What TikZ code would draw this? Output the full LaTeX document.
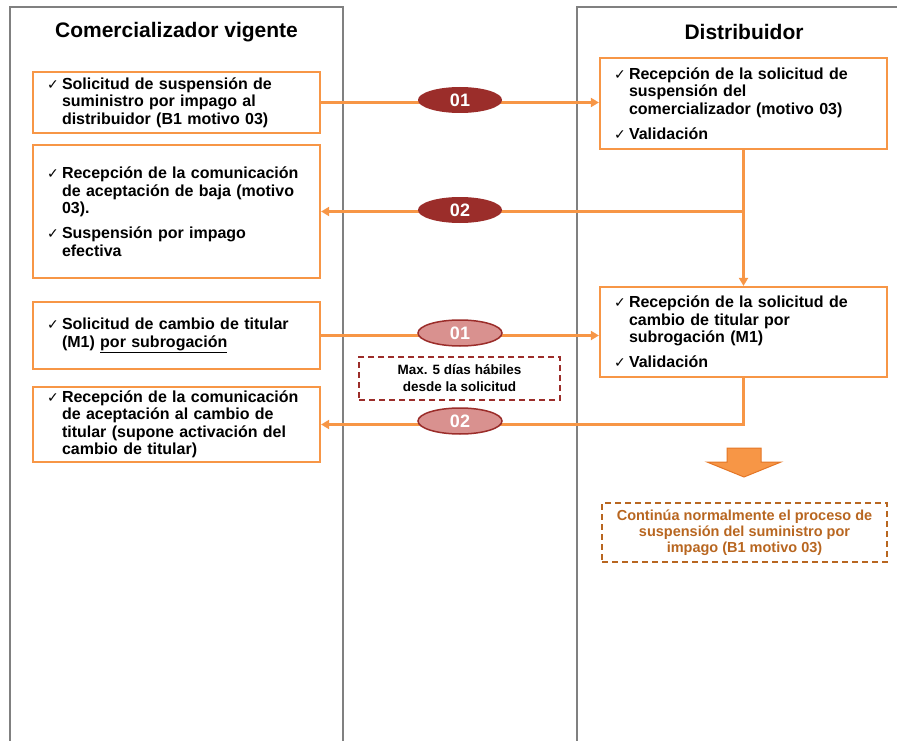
\documentclass[tikz,border=0pt]{standalone}
\usepackage{fontspec}
\setmainfont{Liberation Sans}
\newfontfamily\tickfont{DejaVu Sans}
\usetikzlibrary{arrows.meta,shapes.geometric}
\definecolor{flowO}{RGB}{247,150,70}
\definecolor{arrO}{RGB}{228,118,38}
\definecolor{ovalR}{RGB}{155,45,42}
\definecolor{ovalP}{RGB}{217,145,143}
\definecolor{noteB}{RGB}{184,102,32}
\definecolor{laneG}{RGB}{128,128,128}
\newcommand{\tick}{\makebox[15pt][l]{\tickfont\fontsize{14}{14}\selectfont ✓}}
\newcommand{\itm}[1]{\noindent\tick\parbox[t]{244pt}{\raggedright #1}\par}
\newcommand{\gap}{\vspace{9pt}}

\begin{document}
\begin{tikzpicture}[x=1pt,y=-1pt,
  actbox/.style={draw=flowO,line width=2.2pt,fill=white,inner xsep=14pt,inner ysep=2pt,
    text width=259pt,font=\bfseries\fontsize{16}{17.5}\selectfont},
  flow/.style={draw=flowO,line width=2.2pt,-{Triangle[length=8pt,width=9pt]}},
  oval/.style={ellipse,minimum width=84pt,minimum height=26pt,inner sep=0pt,text=white,
    font=\bfseries\fontsize{18}{18}\selectfont},
  note/.style={dashed,dash pattern=on 6pt off 4pt,line width=1.2pt,align=center,inner sep=0pt}]
\useasboundingbox (0,0) rectangle (897,741);
\clip (0,0) rectangle (897,741);
% swim lanes
\draw[laneG,line width=2pt] (10,7) rectangle (343,770);
\draw[laneG,line width=2pt] (577,7) rectangle (915,770);
\node[font=\bfseries\fontsize{21}{21}\selectfont] (hcom) at (176.5,32) {Comercializador vigente};
\node[font=\bfseries\fontsize{21}{21}\selectfont] (hdis) at (744,32) {Distribuidor};
% comercializador
\node[actbox,minimum height=61pt] (l1) at (176.5,102.5)
  {\itm{Solicitud de suspensión de\\suministro por impago al\\distribuidor (B1 motivo 03)}};
\node[actbox,minimum height=133pt] (l2) at (176.5,211.5)
  {\itm{Recepción de la comunicación\\de aceptación de baja (motivo\\03).}\gap
   \itm{Suspensión por impago\\efectiva}};
\node[actbox,minimum height=67pt] (l3) at (176.5,335.5)
  {\itm{Solicitud de cambio de titular\\(M1) \underline{por subrogación}}};
\node[actbox,minimum height=75pt] (l4) at (176.5,424.5)
  {\itm{Recepción de la comunicación\\de aceptación al cambio de\\titular (supone activación del\\cambio de titular)}};
% distribuidor
\node[actbox,minimum height=91pt] (r1) at (743.5,103.5)
  {\itm{Recepción de la solicitud de\\suspensión del\\comercializador (motivo 03)}\gap
   \itm{Validación}};
\node[actbox,minimum height=90pt] (r2) at (743.5,332)
  {\itm{Recepción de la solicitud de\\cambio de titular por\\subrogación (M1)}\gap
   \itm{Validación}};
% messages
\draw[flow] (l1.east) -- (l1.east -| r1.west);
\draw[flow] (r1.south) -- (r2.north);
\draw[flow] (r1.south |- l2.east) -- (l2.east);
\draw[flow] (l3.east) -- (l3.east -| r2.west);
\draw[flow] (r2.south) |- (l4.east);
\node[oval,fill=ovalR] (m1) at (460,100) {01};
\node[oval,fill=ovalR] (m2) at (460,210) {02};
\node[oval,fill=ovalP,draw=ovalR,line width=1.5pt] (m3) at (460,333) {01};
\node[oval,fill=ovalP,draw=ovalR,line width=1.5pt] (m4) at (460,421) {02};
\node[note,draw=ovalR,minimum width=201pt,minimum height=43pt,
  font=\bfseries\fontsize{13.5}{17}\selectfont] (plazo) at (459.5,378.5)
  {Max. 5 días hábiles\\desde la solicitud};
% block arrow down
\filldraw[fill=flowO,draw=arrO,line width=1pt] (727,448) -- (761,448) -- (761,462) -- (781,462)
  -- (744,477) -- (707,462) -- (727,462) -- cycle;
\node[note,draw=noteB,text=noteB,minimum width=285pt,minimum height=59pt,
  font=\bfseries\fontsize{14.5}{16}\selectfont] (sigue) at (744.5,532.5)
  {Continúa normalmente el proceso de\\suspensión del suministro por\\impago (B1 motivo 03)};
\end{tikzpicture}
\end{document}
